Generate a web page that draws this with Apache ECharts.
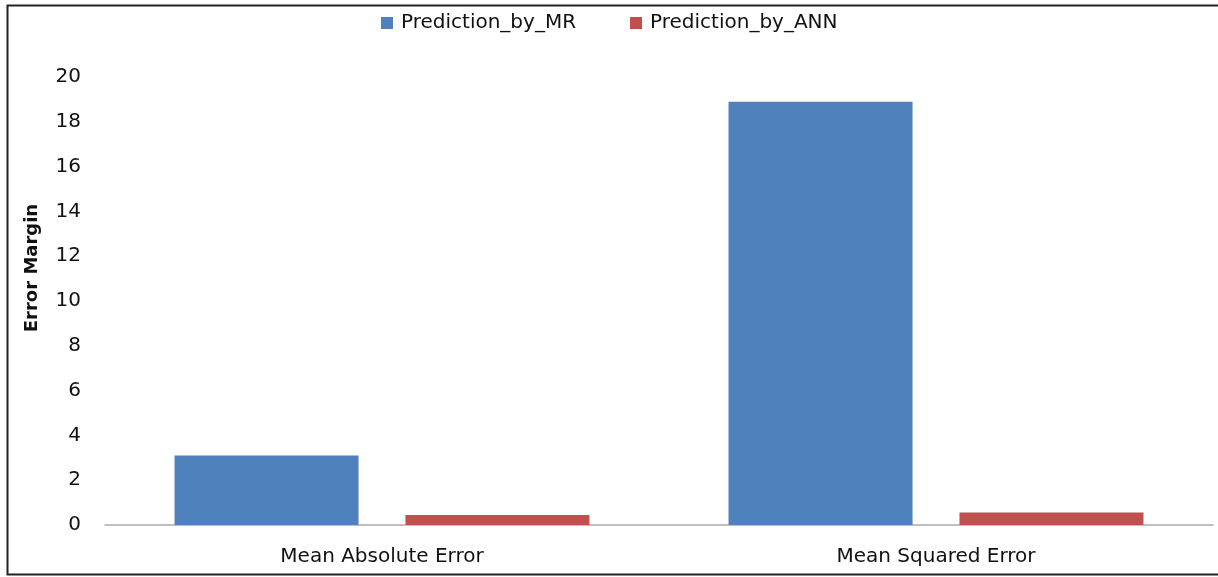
<!DOCTYPE html>
<html><head><meta charset="utf-8">
<script src="https://cdn.jsdelivr.net/npm/echarts@6/dist/echarts.min.js"></script>
<style>html,body{margin:0;padding:0;background:#fff}#c{width:1218px;height:577px}</style>
</head><body><div id="c"></div>
<script>
const categories = ['Mean Absolute Error', 'Mean Squared Error'];
const seriesNames = ['Prediction_by_MR', 'Prediction_by_ANN'];
const mrValues = [3.1, 18.9];
const annValues = [0.45, 0.56];
const yTicks = [0, 2, 4, 6, 8, 10, 12, 14, 16, 18, 20];
const yAxisTitle = 'Error Margin';

const FONT = 'DejaVu Sans';
const chart = echarts.init(document.getElementById('c'), null, {renderer: 'canvas'});
chart.setOption({
  animation: false,
  backgroundColor: '#fff',
  textStyle: {fontFamily: FONT},
  graphic: [{
    type: 'rect', silent: true, z: 100,
    shape: {x: 7.5, y: 5.5, width: 1220, height: 569},
    style: {fill: 'none', stroke: '#222', lineWidth: 2}
  }, {
    type: 'text', silent: true, z: 100,
    x: 32, y: 268, rotation: Math.PI / 2,
    style: {text: yAxisTitle, fontFamily: FONT, fontSize: 18, fontWeight: 'bold',
            fill: '#111', align: 'center', verticalAlign: 'middle'}
  }],
  legend: {
    top: 8, left: 376, itemWidth: 12, itemHeight: 12, itemGap: 54,
    icon: 'rect',
    textStyle: {fontSize: 20, color: '#111', fontFamily: FONT, padding: [0, 0, 0, 3]},
    data: seriesNames
  },
  grid: {left: 105, right: 5, top: 77, bottom: 52, containLabel: false},
  xAxis: {
    type: 'category', data: categories,
    axisLine: {lineStyle: {color: '#aaa', width: 1.5}},
    axisTick: {show: false},
    axisLabel: {fontSize: 20, color: '#111', margin: 22, fontFamily: FONT}
  },
  yAxis: {
    type: 'value', min: yTicks[0], max: yTicks[yTicks.length - 1], interval: 2,
    axisLine: {show: false}, axisTick: {show: false}, splitLine: {show: false},
    axisLabel: {fontSize: 20, color: '#111', margin: 24, fontFamily: FONT}
  },
  series: [
    {name: seriesNames[0], type: 'bar', data: mrValues, barWidth: 184, barGap: '25.5%',
     itemStyle: {color: '#4f81bd'}},
    {name: seriesNames[1], type: 'bar', data: annValues, barWidth: 184,
     itemStyle: {color: '#c0504d'}}
  ]
});
</script></body></html>
